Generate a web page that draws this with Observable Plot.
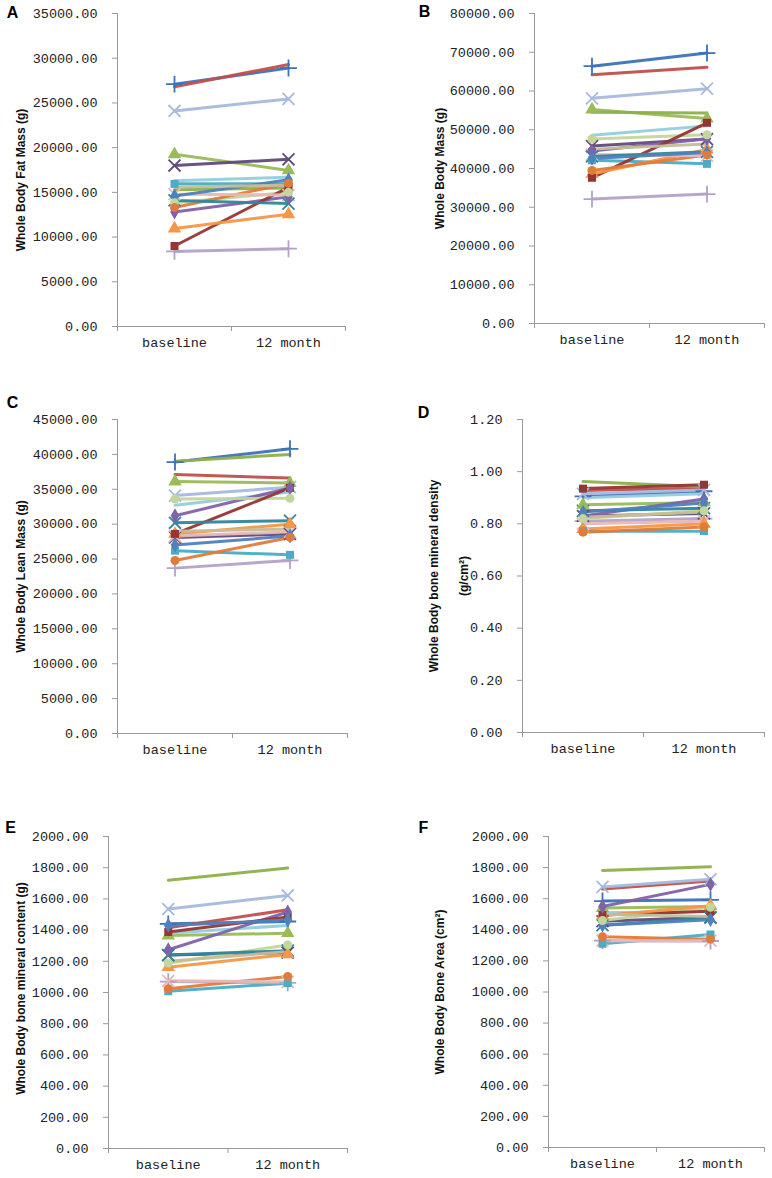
<!DOCTYPE html>
<html>
<head>
<meta charset="utf-8">
<script src="https://cdn.jsdelivr.net/npm/d3@7"></script>
<script src="https://cdn.jsdelivr.net/npm/@observablehq/plot@0.6"></script>
<style>
  html, body { margin: 0; padding: 0; background: #fff; }
  #wrap { position: relative; width: 772px; height: 1178px; overflow: hidden; background: #fff; }
  .panel { position: absolute; }
</style>
</head>
<body>
<div id="wrap"></div>
<script>
// ---------- data ----------
const categories = ["baseline", "12 month"];

const subjectColors = ["#3D72B8", "#C0504D", "#A7B9DD", "#9BBB59", "#604A7B", "#4BACC6",
  "#93CDDD", "#8DB04A", "#7F62A8", "#C3D69B", "#943634", "#F79646",
  "#B3A2C7", "#E07B39", "#E6B9B8", "#31859C", "#4F81BD", "#C4BD97"];
const subjectSymbols = ["plus", null, "times", "triangle", "times", "square",
  null, null, "diamond", "circle", "square", "triangle",
  "plus", "circle", "times", "times", "diamond", null];

// Panel A: Whole Body Fat Mass (g)
const fatBaseline = [27100, 26800, 24100, 19250, 18000, 15950, 16300, 15300, 12800, 13850, 9000, 10950, 8400, 13300, 14800, 14100, 14600, 15600];
const fatMonth12  = [28900, 29300, 25450, 17450, 18700, 15950, 16700, 15500, 14500, 15000, 15550, 12550, 8700, 16000, 14700, 13750, 16400, 15800];
// Panel B: Whole Body Mass (g)
const massBaseline = [66400, 64200, 58100, 55200, 45800, 42100, 48600, 54500, 44500, 47600, 37600, 38600, 32100, 39500, 43600, 43100, 42600, 45000];
const massMonth12  = [69800, 66100, 60600, 52900, 47600, 41200, 51000, 54300, 47700, 48700, 51800, 44900, 33400, 43500, 43300, 44300, 44100, 46300];
// Panel C: Whole Body Lean Mass (g)
const leanBaseline = [38900, 37100, 34100, 36100, 28100, 26200, 32700, 39000, 31200, 33600, 28600, 28600, 23700, 24800, 28300, 30200, 27000, 29000];
const leanMonth12  = [40800, 36600, 35300, 35900, 28600, 25600, 34600, 40000, 35200, 33700, 35200, 30000, 24800, 28100, 28900, 30500, 28300, 29300];
// Panel D: Whole Body bone mineral density (g/cm2)
const bmdBaseline = [0.905, 0.928, 0.915, 0.873, 0.830, 0.772, 0.900, 0.962, 0.830, 0.820, 0.935, 0.780, 0.810, 0.768, 0.800, 0.850, 0.845, 0.825];
const bmdMonth12  = [0.925, 0.937, 0.930, 0.882, 0.840, 0.772, 0.915, 0.942, 0.895, 0.850, 0.950, 0.800, 0.820, 0.788, 0.810, 0.860, 0.880, 0.845];
// Panel E: Whole Body bone mineral content (g)
const bmcBaseline = [1440, 1415, 1535, 1365, 1240, 1008, 1380, 1720, 1274, 1188, 1388, 1162, 1070, 1024, 1075, 1240, 1430, 1200];
const bmcMonth12  = [1455, 1530, 1622, 1380, 1255, 1060, 1430, 1798, 1516, 1305, 1484, 1244, 1062, 1103, 1068, 1268, 1465, 1262];
// Panel F: Whole Body Bone Area (cm2)
const areaBaseline = [1585, 1662, 1676, 1540, 1455, 1310, 1510, 1782, 1550, 1460, 1495, 1490, 1330, 1355, 1330, 1430, 1430, 1500];
const areaMonth12  = [1593, 1714, 1725, 1550, 1480, 1370, 1520, 1805, 1692, 1545, 1520, 1555, 1328, 1340, 1330, 1478, 1465, 1485];

const ticksA = [0, 5000, 10000, 15000, 20000, 25000, 30000, 35000];
const ticksB = [0, 10000, 20000, 30000, 40000, 50000, 60000, 70000, 80000];
const ticksC = [0, 5000, 10000, 15000, 20000, 25000, 30000, 35000, 40000, 45000];
const ticksD = [0, 0.2, 0.4, 0.6, 0.8, 1.0, 1.2];
const ticksEF = [0, 200, 400, 600, 800, 1000, 1200, 1400, 1600, 1800, 2000];

// ---------- layout ----------
const panels = [
  {letter: "A", title: "Whole Body Fat Mass (g)", base: fatBaseline, m12: fatMonth12, ticks: ticksA,
   left: 0, top: 0, height: 360, mL: 117, mR: 41, mT: 13, mB: 34, titleX: 15, titleDy: 10, letterX: 12, letterY: 12},
  {letter: "B", title: "Whole Body Mass (g)", base: massBaseline, m12: massMonth12, ticks: ticksB,
   left: 386, top: 0, height: 360, mL: 148, mR: 8, mT: 13, mB: 37, titleX: 48, titleDy: 0, letterX: 38, letterY: 11},
  {letter: "C", title: "Whole Body Lean Mass (g)", base: leanBaseline, m12: leanMonth12, ticks: ticksC,
   left: 0, top: 380, height: 390, mL: 117, mR: 39, mT: 39, mB: 37, titleX: 15, titleDy: 0, letterX: 12, letterY: 22},
  {letter: "D", title: "Whole Body bone mineral density\n(g/cm²)", base: bmdBaseline, m12: bmdMonth12, ticks: ticksD,
   left: 386, top: 380, height: 390, mL: 136, mR: 8, mT: 39, mB: 38, titleX: 57, titleDy: 0, letterX: 37, letterY: 32},
  {letter: "E", title: "Whole Body bone mineral content (g)", base: bmcBaseline, m12: bmcMonth12, ticks: ticksEF,
   left: 0, top: 780, height: 398, mL: 108, mR: 39, mT: 56, mB: 30, titleX: 15, titleDy: -4, letterX: 10, letterY: 47},
  {letter: "F", title: "Whole Body Bone Area (cm²)", base: areaBaseline, m12: areaMonth12, ticks: ticksEF,
   left: 386, top: 780, height: 398, mL: 162, mR: 8, mT: 56, mB: 31, titleX: 48, titleDy: 0, letterX: 37, letterY: 47}
];

const wrap = document.getElementById("wrap");
const axisGray = "#9a9a9a";
const symbolSet = Array.from(new Set(subjectSymbols.filter(s => s)));
const strokedSymbols = new Set(["plus", "times", "asterisk", "cross"]);

for (const p of panels) {
  const rows = [];
  subjectColors.forEach((c, i) => {
    [p.base, p.m12].forEach((arr, j) => {
      rows.push({subject: i, xi: j + 0.5, cat: categories[j], v: arr[i]});
    });
  });
  const yMax = p.ticks[p.ticks.length - 1];

  const marks = [
    Plot.ruleX([0], {stroke: axisGray, strokeWidth: 1}),
    Plot.ruleY([0], {stroke: axisGray, strokeWidth: 1}),
    Plot.axisY(p.ticks, {tickSize: 5, tickPadding: 15, tickFormat: d => d.toFixed(2),
      stroke: axisGray, fill: "#222", label: null}),
    Plot.axisX([0, 1, 2], {tickSize: 5, tickFormat: () => "", stroke: axisGray, label: null}),
    Plot.axisX([0.5, 1.5], {tickSize: 0, tickPadding: 11, tickFormat: d => categories[Math.round(d - 0.5)],
      fill: "#222", label: null}),
    Plot.line(rows, {x: "xi", y: "v", z: "subject", stroke: d => subjectColors[d.subject],
      strokeWidth: 3, strokeOpacity: 0.95})
  ];
  for (const sym of symbolSet) {
    const sub = rows.filter(r => subjectSymbols[r.subject] === sym);
    if (strokedSymbols.has(sym)) {
      marks.push(Plot.dot(sub, {x: "xi", y: "v", symbol: sym, r: 5.5, stroke: d => subjectColors[d.subject], strokeWidth: 1.8}));
    } else {
      marks.push(Plot.dot(sub, {x: "xi", y: "v", symbol: sym, r: sym === "triangle" ? 5 : 4.5,
        fill: d => subjectColors[d.subject], stroke: "none"}));
    }
  }
  marks.push(Plot.text([p.title], {frameAnchor: "left", dx: p.titleX - p.mL, dy: p.titleDy, rotate: -90,
    textAnchor: "middle", lineAnchor: "middle",
    fontFamily: "'Liberation Sans', Arial, sans-serif", fontWeight: "bold", fontSize: 12,
    lineHeight: 2.5, fill: "#111"}));
  marks.push(Plot.text([p.letter], {frameAnchor: "top-left", dx: p.letterX - p.mL, dy: p.letterY - p.mT,
    textAnchor: "middle", lineAnchor: "middle",
    fontFamily: "'Liberation Sans', Arial, sans-serif", fontWeight: "bold", fontSize: 16, fill: "#000"}));

  const chart = Plot.plot({
    width: 386,
    height: p.height,
    marginLeft: p.mL, marginRight: p.mR, marginTop: p.mT, marginBottom: p.mB,
    x: {domain: [0, 2]},
    y: {domain: [0, yMax]},
    color: {type: "identity"},
    style: {fontFamily: "'Liberation Mono', 'Courier New', monospace", fontSize: "13.5px",
      background: "transparent", overflow: "visible", color: "#222"},
    marks
  });
  const div = document.createElement("div");
  div.className = "panel";
  div.style.left = p.left + "px";
  div.style.top = p.top + "px";
  div.appendChild(chart);
  wrap.appendChild(div);
}
</script>
</body>
</html>
